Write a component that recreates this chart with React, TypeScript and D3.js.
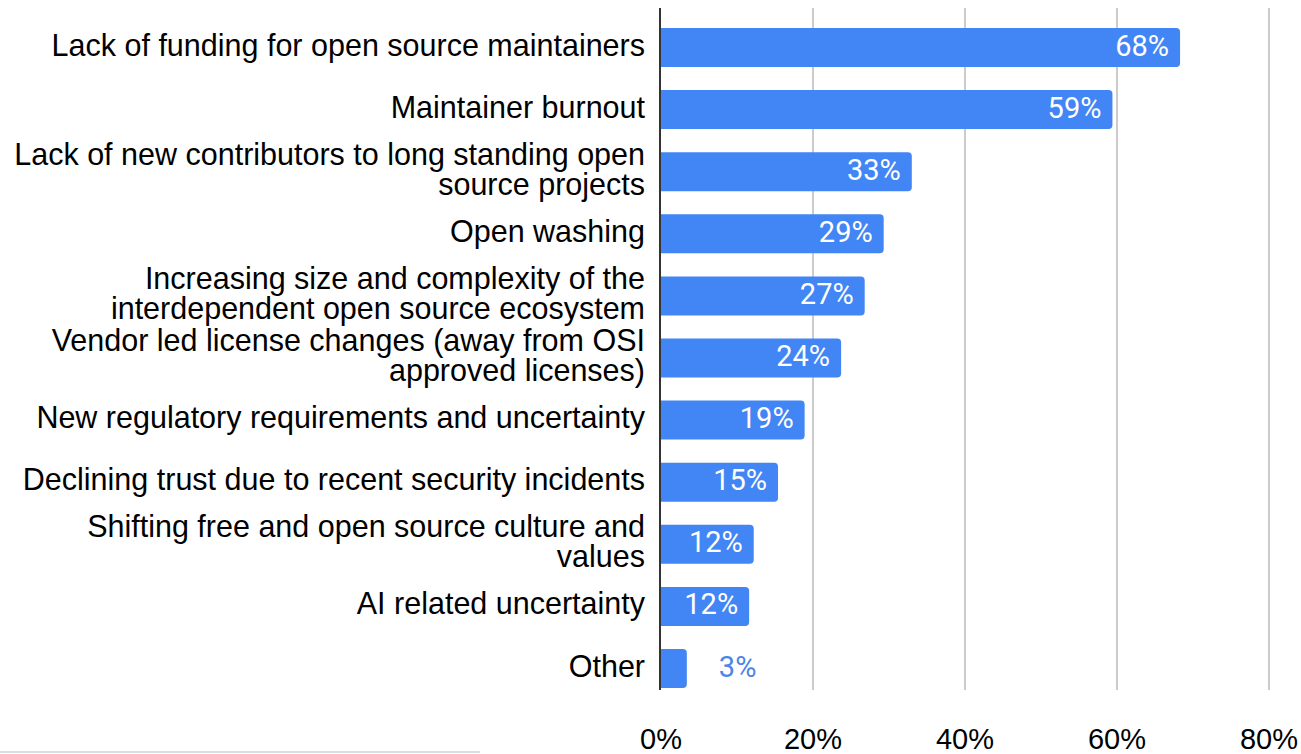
import React from "react";
import * as d3 from "d3";

const categories: string[][] = [
  ["Lack of funding for open source maintainers"],
  ["Maintainer burnout"],
  ["Lack of new contributors to long standing open", "source projects"],
  ["Open washing"],
  ["Increasing size and complexity of the", "interdependent open source ecosystem"],
  ["Vendor led license changes (away from OSI", "approved licenses)"],
  ["New regulatory requirements and uncertainty"],
  ["Declining trust due to recent security incidents"],
  ["Shifting free and open source culture and", "values"],
  ["AI related uncertainty"],
  ["Other"],
];
const values: number[] = [68.3, 59.4, 33.0, 29.3, 26.8, 23.7, 18.9, 15.4, 12.2, 11.6, 3.4];
const ticks: number[] = [0, 20, 40, 60, 80];

const W = 1301;
const H = 754;
const BLUE = "#4285f4";

export default function App() {
  const x = d3.scaleLinear().domain([0, 80]).range([661, 1269]);
  const y = d3
    .scaleBand<number>()
    .domain(d3.range(categories.length))
    .range([16.45, 699.55])
    .paddingInner(0.372)
    .paddingOuter(0.186);
  const bh = y.bandwidth();
  const r = 4;
  const labelFont = "'Liberation Sans', Arial, Helvetica, sans-serif";
  const valueFont = "Roboto, 'Noto Sans', sans-serif";

  const barPath = (v: number, top: number) => {
    const x0 = x(0);
    const x1 = x(v);
    const p = d3.path();
    p.moveTo(x0, top);
    p.lineTo(x1 - r, top);
    p.arcTo(x1, top, x1, top + r, r);
    p.lineTo(x1, top + bh - r);
    p.arcTo(x1, top + bh, x1 - r, top + bh, r);
    p.lineTo(x0, top + bh);
    p.closePath();
    return p.toString();
  };

  return (
    <div style={{ position: "fixed", left: 0, top: 0, width: W, height: H, background: "#fff" }}>
      <svg width={W} height={H} style={{ display: "block" }}>
        <rect x={0} y={0} width={W} height={H} fill="#fff" />
        {ticks.slice(1).map((t) => (
          <line key={t} x1={x(t)} x2={x(t)} y1={8} y2={690} stroke="#cccccc" strokeWidth={2} />
        ))}
        {values.map((v, i) => {
          const top = y(i)!;
          const c = top + bh / 2;
          const end = x(v);
          const label = `${Math.round(v)}%`;
          const inside = end - x(0) > 60;
          return (
            <g key={i}>
              <path d={barPath(v, top)} fill={BLUE} />
              <text
                x={inside ? end - 11 : end + 32}
                y={c + 8}
                textAnchor={inside ? "end" : "start"}
                fontFamily={valueFont}
                fontSize={29}
                fill={inside ? "#ffffff" : "#4a86e8"}
              >
                {label}
              </text>
            </g>
          );
        })}
        {categories.map((lines, i) => {
          const c = y(i)! + bh / 2;
          const lh = 30;
          const start = c - ((lines.length - 1) * lh) / 2;
          return (
            <text key={i} textAnchor="end" fontFamily={labelFont} fontSize={30.5} fill="#000">
              {lines.map((ln, j) => (
                <tspan key={j} x={645} y={start + j * lh + 8}>
                  {ln}
                </tspan>
              ))}
            </text>
          );
        })}
        <line x1={660} x2={660} y1={8} y2={690} stroke="#333333" strokeWidth={2} />
        {ticks.map((t) => (
          <text
            key={t}
            x={x(t)}
            y={749}
            textAnchor="middle"
            fontFamily={labelFont}
            fontSize={29}
            fill="#000"
          >
            {`${t}%`}
          </text>
        ))}
        <line x1={0} x2={480} y1={752} y2={752} stroke="#d6dde8" strokeWidth={2} />
      </svg>
    </div>
  );
}
